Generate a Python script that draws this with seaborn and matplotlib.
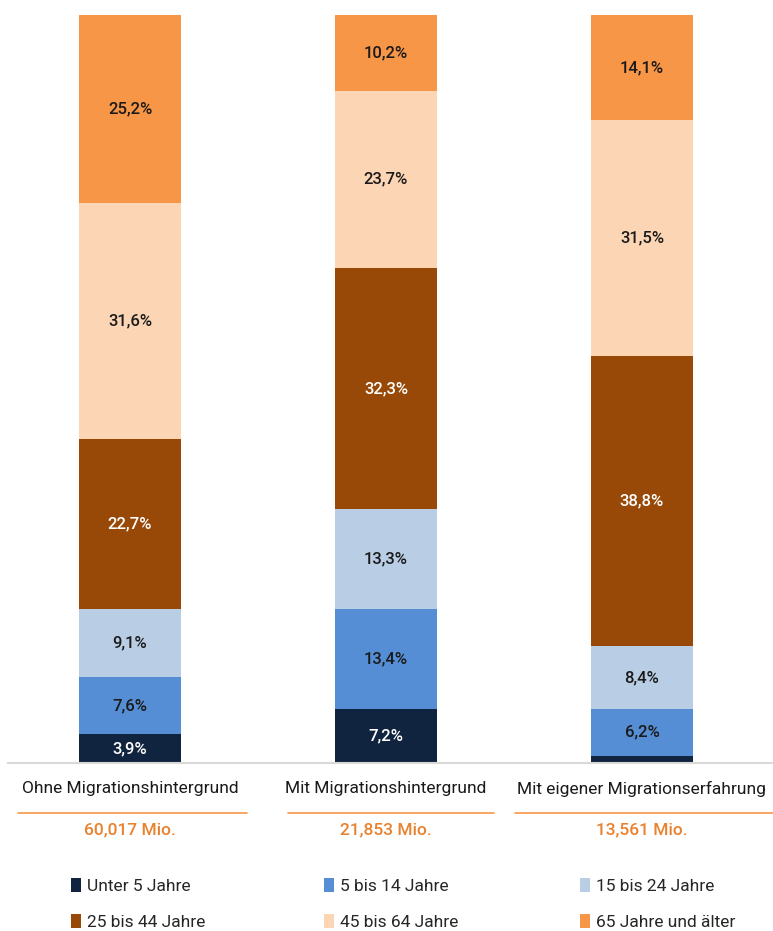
import matplotlib
matplotlib.use("Agg")
import matplotlib.pyplot as plt
import seaborn as sns
import pandas as pd
import numpy as np
from matplotlib.patches import Patch
from matplotlib.lines import Line2D

categories = ["Ohne Migrationshintergrund", "Mit Migrationshintergrund", "Mit eigener Migrationserfahrung"]
totals = ["60,017 Mio.", "21,853 Mio.", "13,561 Mio."]
age_groups = ["Unter 5 Jahre", "5 bis 14 Jahre", "15 bis 24 Jahre",
              "25 bis 44 Jahre", "45 bis 64 Jahre", "65 Jahre und älter"]
unter5 = [3.9, 7.2, 1.0]
bis14 = [7.6, 13.4, 6.2]
bis24 = [9.1, 13.3, 8.4]
bis44 = [22.7, 32.3, 38.8]
bis64 = [31.6, 23.7, 31.5]
ab65 = [25.2, 10.2, 14.1]
colors = ["#11243F", "#558ED5", "#B9CDE5", "#984807", "#FCD5B5", "#F79646"]
text_colors = ["white", "#1a1a1a", "#1a1a1a", "white", "#1a1a1a", "#1a1a1a"]

sns.set_theme(style="white")
plt.rcParams["font.family"] = ["Roboto", "DejaVu Sans"]

series = [unter5, bis14, bis24, bis44, bis64, ab65]
df = pd.DataFrame({g: v for g, v in zip(age_groups, series)}, index=categories)
cum = df.cumsum(axis=1)

fig = plt.figure(figsize=(7.73, 9.31), dpi=100)
W, H = 773, 931
ax = fig.add_axes([8 / W, (H - 763) / H, (773 - 8) / W, 748 / H])

# draw from top segment down (overlapping cumulative bars)
for i in reversed(range(len(age_groups))):
    g = age_groups[i]
    d = pd.DataFrame({"cat": categories, "val": cum[g].values})
    sns.barplot(data=d, x="cat", y="val", color=colors[i], width=0.4,
                saturation=1, ax=ax, linewidth=0, order=categories)

ax.set_xlim(-0.477, 2.512)
ax.set_ylim(0, 100.0)
ax.set_xlabel("")
ax.set_ylabel("")
ax.set_yticks([])
ax.set_xticks([])
for s in ["top", "right", "left"]:
    ax.spines[s].set_visible(False)
ax.spines["bottom"].set_color("#d9d9d9")
ax.spines["bottom"].set_linewidth(1.5)

for j, cat in enumerate(categories):
    for i, g in enumerate(age_groups):
        v = df.loc[cat, g]
        if v < 2:
            continue
        mid = cum.loc[cat, g] - v / 2
        ax.text(j, mid, f"{v:.1f}".replace(".", ",") + "%", ha="center", va="center",
                fontsize=12, fontweight="medium", color=text_colors[i])

# category labels, underline, totals
trans = ax.get_xaxis_transform()
underline = [(18, 247), (288, 494), (515, 773)]
for j, cat in enumerate(categories):
    ax.text(j, -(789 - 763) / 748, cat, transform=trans, ha="center", va="center",
            fontsize=12.5, color="#1a1a1a", clip_on=False)
    ax.text(j, -(830 - 763) / 748, totals[j], transform=trans, ha="center", va="center",
            fontsize=12.5, fontweight="medium", color="#E8822F", clip_on=False)
    x0, x1 = underline[j]
    fig.add_artist(Line2D([x0 / W, x1 / W], [(H - 813) / H] * 2, color="#F79646", lw=1.2))

# legend in three columns
col_x = [71, 324, 580]
for c in range(3):
    idx = [c, c + 3]
    handles = [Patch(facecolor=colors[k], edgecolor="none") for k in idx]
    labels = [age_groups[k] for k in idx]
    fig.legend(handles, labels, loc="upper left",
               bbox_to_anchor=(col_x[c] / W, (H - 878) / H),
               frameon=False, fontsize=12.5, handlelength=0.55, handleheight=0.9,
               handletextpad=0.35, labelspacing=1.12, borderpad=0, borderaxespad=0)

fig.savefig("out.png", dpi=100)
